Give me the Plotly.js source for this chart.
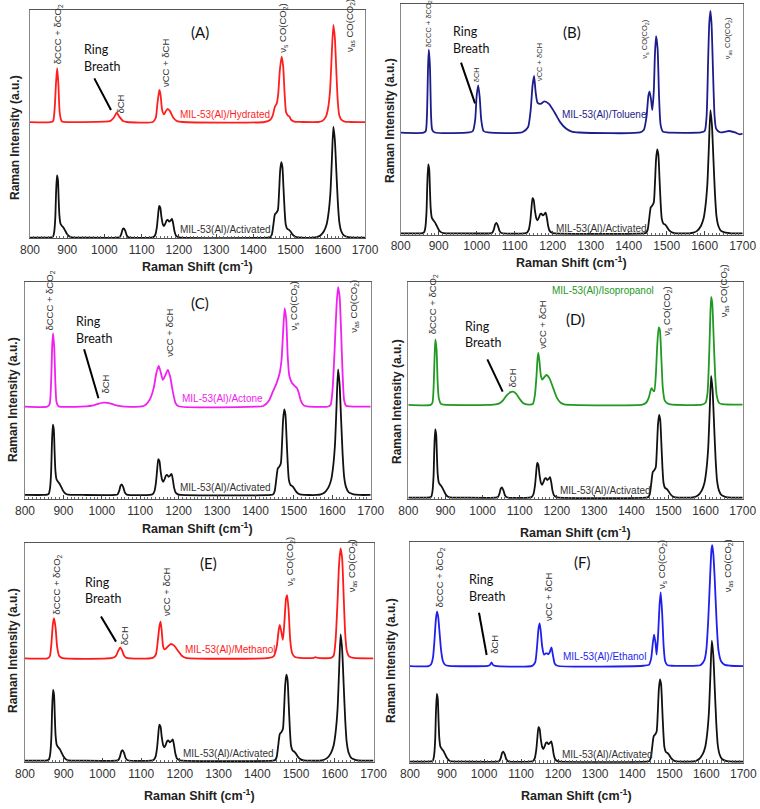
<!DOCTYPE html>
<html><head><meta charset="utf-8">
<script src="https://cdn.plot.ly/plotly-3.0.1.min.js"></script>
<style>html,body{margin:0;padding:0;background:#fff}#chart{width:760px;height:809px}</style>
</head><body><div id="chart"></div>
<script>
// ---------- data ----------
const shiftActivated = [800,850,858,862,865,868,870,872.5,875,877,879,882,886,890,895,900,905,912,950,
  1035,1041,1045,1049,1052,1056,1060,1065,
  1125,1132,1137,1141,1144,1147,1150,1153,1157,1160,1164,1167,1170,1174,1178,1181.5,1185,1188,1192,1198,1205,
  1440,1446,1450,1454,1458,1462,1466,1469,1472,1475,1478,1481,1484,1487,1491,1496,1500,1505,1512,1520,
  1560,1570,1580,1590,1597,1602,1607,1611,1615,1619,1623,1627,1631,1636,1643,1655,1670,1700];
const intActivated = [0,0,0.2,1,5,18,40,56,52,35,20,12.5,10.5,9,6,3,1.2,0.2,0,
  0,0.5,3,7.5,8.4,6,2,0.3,
  0,0.5,3,10,20,28.5,27,19,12,10.5,13,15.5,16,14.5,15.5,16.8,12,6,2,0.5,0,
  0,0.5,3,12,21,22.5,25,40,60,68,64,45,25,12,8,7,5.5,3,1,0.2,
  0,0.5,2,6,12,22,40,70,100,88,60,32,14,6,2,0.5,0,0];

const shiftHydrated = [800,855,862,866,870,873,876,880,885,890,
  1000,1015,1025,1033,1040,1050,1060,
  1130,1138,1142,1146,1148,1151,1155,1160,1165,1170,1176,1185,1195,1210,
  1430,1445,1452,1458,1463,1467,1471,1476,1480,1484,1488,1493,1497,1502,1510,1530,
  1575,1585,1595,1601,1606,1610,1615,1619,1623,1627,1631,1637,1645,1660,1700];
const intHydrated = [104,104,105,115,140,152.6,140,112,105,104.3,
  104.5,105,108,112.6,109,105,104.2,
  104.2,108,120,130,133,128,115,111,114,116,114,108,105,104.2,
  104.2,106,110,118,121,130,150,163,155,130,113,110,109,106,104.5,104.2,
  104.2,105,109,117,132,160,191.6,180,150,122,110,106,104.6,104.2,104];

const shiftToluene = [800,860,866,869,872,874,877,880,883,890,
  980,990,996,1000,1004,1008,1012,1018,1030,
  1120,1135,1142,1147,1151,1155,1160,1168,1178,1190,1205,1220,1235,1250,1270,
  1430,1440,1447,1452,1455,1459,1462,1466,1469,1472,1476,1480,1484,1490,1500,
  1590,1600,1605,1609,1612,1615,1618,1622,1626,1630,1640,1655,1665,1680,1692,1700];
const intToluene = [81.6,81.6,83,95,135,149,135,95,84,81.8,
  81.8,83,92,112,120,110,92,83,81.8,
  82,86,100,120,127.6,115,106,105,107,105,98,90,85,82.5,81.8,
  81.8,84,95,112,115,108,100,115,145,160,150,110,88,82.5,81.8,
  81.8,83,95,140,170,180.5,170,130,95,85,82,82.5,83,81.8,80.3,80.8];

const shiftAcetone = [800,858,864,868,871,873,876,879,882,887,
  960,975,990,1005,1015,1030,1045,1060,
  1105,1115,1125,1135,1142,1148,1153,1159,1165,1172,1178,1185,1192,1200,
  1400,1420,1435,1445,1455,1463,1468,1472,1476,1480,1484,1488,1495,1503,1508,1513,1518,1525,1535,
  1590,1596,1601,1606,1611,1615,1619,1623,1627,1631,1636,1645,1700];
const intAcetone = [70.3,70.3,72,90,120,128.6,118,90,74,70.6,
  70.5,71,72.5,73.5,73.3,72,70.8,70.3,
  70.4,72,76,85,97,102.7,98,91.5,95,99.5,94,82,73,70.6,
  70.3,70.8,75,82,89,97,108,130,148.5,140,110,95,89,86.5,85,81,75,71.5,70.4,
  70.4,72,85,115,150,165.3,158,130,95,75,71,70.4,70.3];

const shiftIsopropanol = [800,860,865,868,871,873,876,879,882,888,895,
  1030,1045,1055,1065,1075,1082,1090,1100,1108,1118,
  1135,1141,1145,1148,1150,1153,1157,1161,1166,1172,1180,1190,1200,1210,1220,1240,
  1430,1440,1447,1452,1455,1459,1462,1466,1470,1474,1477,1481,1485,1490,1497,1505,
  1590,1600,1605,1609,1612,1615,1618,1622,1626,1630,1636,1645,1700];
const intIsopropanol = [76.2,76.2,78,90,118,130,122,95,82,77,76.4,
  76.4,77.5,80,84,86.7,87.1,85.5,81,78,76.6,
  77,85,100,115,119,112,100,97,99,100.8,98,90,82,78,76.7,76.3,
  76.4,78,82,88,90,88,87.5,100,125,140,138,115,90,80,77.5,76.6,
  76.4,78,85,110,140,165,160,130,100,84,78,76.8,76.4];

const shiftMethanol = [800,858,864,868,872,875,879,883,888,895,
  1025,1035,1041,1046,1051,1056,1062,
  1130,1138,1143,1147,1150,1153,1157,1161,1168,1176,1185,1195,1205,1215,
  1430,1442,1450,1455,1458,1462,1466,1470,1474,1477,1481,1485,1490,1497,1510,
  1545,1550,1556,
  1590,1597,1602,1607,1611,1615,1619,1623,1627,1631,1637,1648,1700];
const intMethanol = [81,81,82.5,92,108,112.7,105,90,83,81.3,
  81.3,83,87,89.7,87,83,81.3,
  81.3,84,95,106,110,103,90,88,90,92.3,91,87,83,81.4,
  81.3,82.5,90,103,107.4,102,95.5,110,128,131,118,95,85,82,81.3,
  81.3,82,81.3,
  81.3,83,95,125,155,168,160,130,100,87,82.5,81.3,81];

const shiftEthanol = [800,850,857,862,866,870,873,876,880,884,889,895,905,
  1010,1016,1020,1024,1030,
  1130,1138,1143,1147,1150,1153,1157,1162,1167,1170,1174,1178,1182,1186,1191,1198,
  1430,1445,1451,1455,1459,1463,1466,1470,1474,1477,1481,1485,1489,1495,1505,
  1575,1585,1595,1600,1605,1610,1614,1616,1619,1623,1628,1633,1640,1650,1665,1700];
const intEthanol = [79,79,80.5,86,100,118,124,120,106,92,83,80,79.2,
  79.2,80,82,80,79.2,
  79.2,82,95,110,114.3,108,95,88.5,89.5,89.5,88.8,91,94.5,88,81,79.3,
  79.3,80,85,96,105,98,88.5,105,130,140,122,95,83,79.8,79.3,
  79.3,80,84,92,115,150,175,179,172,150,115,92,83,80,79.3,79];

const tickValues = [800,900,1000,1100,1200,1300,1400,1500,1600,1700];
const tickLabels = ['800','900','1000','1100','1200','1300','1400','1500','1600','1700'];
const peakLabels = ['δCCC + δCO<sub>2</sub>','δCH','νCC + δCH','ν<sub>s</sub> CO(CO<sub>2</sub>)','ν<sub>as</sub> CO(CO<sub>2</sub>)'];
const ringLabels = ['Ring','Breath'];
const panelTags = ['(A)','(B)','(C)','(D)','(E)','(F)'];
const solventLabels = ['MIL-53(Al)/Hydrated','MIL-53(Al)/Toluene','MIL-53(Al)/Actone','MIL-53(Al)/Isopropanol','MIL-53(Al)/Methanol','MIL-53(Al)/Ethanol'];
const activatedLabel = 'MIL-53(Al)/Activated';
const xTitle = '<b>Raman Shift (cm<sup>-1</sup>)</b>';
const yTitle = '<b>Raman Intensity (a.u.)</b>';

const solventShift = [shiftHydrated, shiftToluene, shiftAcetone, shiftIsopropanol, shiftMethanol, shiftEthanol];
const solventInt = [intHydrated, intToluene, intAcetone, intIsopropanol, intMethanol, intEthanol];

// ---------- layout / styling ----------
const W = 760, H = 809;
const solventColors = ['#ff1f1f','#1c1c8c','#f020f0','#229922','#ff1a1a','#1f1fee'];
const panels = [
  {box:[30,365,10,238.3], yr:[-0.6,205.1], pf:9.5,
   peaks:[[876,155.6],[1042,110.5],[1164.5,134.5],[1479,166],[1659.7,166]],
   ring:[940.6,169.1,154.1], line:[972.8,143.5,1017.6,115], tag:[1256.7,185.6], solv:[1196.7,110.5], act:[1196.7,6.9],
   xt:[197.5,266], yt:[15,138]},
  {box:[400.7,742.7,4,235], yr:[-1.35,186], pf:7.5,
   peaks:[[874.6,149.5],[1001.8,121.6],[1165,123],[1443,140.5],[1662,140.5]],
   ring:[931.6,163.5,150], line:[958.8,138.4,995.6,105.4], tag:[1250,163.5], solv:[1219,96], act:[1204,4],
   xt:[571.7,261.7], yt:[390,121]},
  {box:[25,370.7,282.3,499.3], yr:[-3.45,169.2], pf:9.5,
   peaks:[[865.2,130],[1008.7,79.6],[1176.5,108.8],[1501.7,130],[1656.5,128.6]],
   ring:[927.8,137.9,124.7], line:[953.9,115.9,991.3,76.9], tag:[1256.5,153], solv:[1202.6,76.4], act:[1198.3,6.1],
   xt:[197.8,528], yt:[13,400]},
  {box:[408.3,742.7,282.3,499.3], yr:[-1.37,177], pf:9.5,
   peaks:[[867.3,133.7],[1081,89.9],[1161.8,121.4],[1497.5,132.3],[1648.3,147.4]],
   ring:[946.3,140.5,127.4], line:[1012.7,113.7,1054,87.1], tag:[1248.8,146.6], solv:[1181.5,170.1], act:[1204,5.8],
   xt:[575.5,532], yt:[397,402]},
  {box:[25,373.5,543.3,762.3], yr:[-1.3,172], pf:9.5,
   peaks:[[881.8,114.5],[1055.7,90.2],[1165.8,113.5],[1484.2,137.7],[1643.5,132.5]],
   ring:[948.9,141.2,128], line:[996.3,114,1035,94.2], tag:[1273.4,156.7], solv:[1207,88.1], act:[1202.9,5.8],
   xt:[199,795], yt:[13,651]},
  {box:[410,743.3,541.7,762.7], yr:[-0.83,181.8], pf:9.5,
   peaks:[[881,126.7],[1027.7,88.2],[1173.5,115.7],[1482,141.9],[1659.6,139.1]],
   ring:[953,150.7,136.9], line:[986.3,123.1,1007,88.2], tag:[1265,165.3], solv:[1207.7,86.8], act:[1205,6],
   xt:[576.7,795], yt:[391,661]}
];

const baseFont = 'Liberation Sans, Arial, sans-serif';
const traces = [];
const layout = {
  width: W, height: H, margin:{l:0,r:0,t:0,b:0},
  paper_bgcolor:'#fff', plot_bgcolor:'#fff', showlegend:false,
  font:{family: baseFont, color:'#333', size:12},
  annotations:[], shapes:[]
};

panels.forEach((p, i) => {
  const s = i === 0 ? '' : String(i + 1);
  const xa = 'x' + s, ya = 'y' + s;
  traces.push({x: shiftActivated, y: intActivated, xaxis: xa, yaxis: ya, type:'scatter', mode:'lines',
    line:{color:'#111', width:1.8, shape:'spline', smoothing:0.6}, hoverinfo:'skip'});
  traces.push({x: solventShift[i], y: solventInt[i], xaxis: xa, yaxis: ya, type:'scatter', mode:'lines',
    line:{color: solventColors[i], width:1.8, shape:'spline', smoothing:0.6}, hoverinfo:'skip'});

  const [l, r, t, b] = p.box;
  layout['xaxis' + s] = {
    domain:[l / W, r / W], range:[800,1700], anchor: ya,
    tickmode:'array', tickvals: tickValues, ticktext: tickLabels,
    ticks:'inside', ticklen:4, tickwidth:1, tickcolor:'#444',
    minor:{dtick:10, tick0:800, ticks:'inside', ticklen:2.5, tickcolor:'#666', showgrid:false},
    showline:true, linecolor:'#555', linewidth:1, mirror:true,
    showgrid:false, zeroline:false,
    tickfont:{family: baseFont, size:12, color:'#333'}, fixedrange:true
  };
  layout['yaxis' + s] = {
    domain:[1 - b / H, 1 - t / H], range: p.yr, anchor: xa,
    showticklabels:false, ticks:'', showgrid:false, zeroline:false,
    showline:true, linecolor:'#888', linewidth:1, mirror:true, fixedrange:true
  };

  const A = layout.annotations;
  p.peaks.forEach((pk, k) => {
    A.push({xref: xa, yref: ya, x: pk[0], y: pk[1], text: peakLabels[k], showarrow:false,
      textangle:-90, xanchor:'center', yanchor:'bottom', borderpad:0,
      font:{family: baseFont, size: p.pf, color:'#333'}});
  });
  A.push({xref: xa, yref: ya, x: p.ring[0], y: p.ring[1], text: ringLabels[0], showarrow:false,
    xanchor:'left', yanchor:'middle', font:{family:'Lato, Open Sans, sans-serif', size:12.5, color:'#111'}});
  A.push({xref: xa, yref: ya, x: p.ring[0], y: p.ring[2], text: ringLabels[1], showarrow:false,
    xanchor:'left', yanchor:'middle', font:{family:'Lato, Open Sans, sans-serif', size:12.5, color:'#111'}});
  A.push({xref: xa, yref: ya, x: p.tag[0], y: p.tag[1], text: panelTags[i], showarrow:false,
    xanchor:'center', yanchor:'middle', font:{family:'Lato, Open Sans, sans-serif', size:15, color:'#111'}});
  A.push({xref: xa, yref: ya, x: p.solv[0], y: p.solv[1], text: solventLabels[i], showarrow:false,
    xanchor:'left', yanchor:'middle', font:{family: baseFont, size:10, color: solventColors[i]}});
  A.push({xref: xa, yref: ya, x: p.act[0], y: p.act[1], text: activatedLabel, showarrow:false,
    xanchor:'left', yanchor:'middle', font:{family: baseFont, size:10, color:'#333'}});
  A.push({xref:'paper', yref:'paper', x: p.xt[0] / W, y: 1 - p.xt[1] / H, text: xTitle, showarrow:false,
    xanchor:'center', yanchor:'middle', font:{family: baseFont, size:12.5, color:'#222'}});
  A.push({xref:'paper', yref:'paper', x: p.yt[0] / W, y: 1 - p.yt[1] / H, text: yTitle, showarrow:false,
    textangle:-90, xanchor:'center', yanchor:'middle', font:{family: baseFont, size:12, color:'#222'}});

  layout.shapes.push({type:'line', xref: xa, yref: ya, x0: p.line[0], y0: p.line[1], x1: p.line[2], y1: p.line[3],
    line:{color:'#000', width:2}});
});

Plotly.newPlot('chart', traces, layout, {staticPlot:true, displayModeBar:false});
</script>
</body></html>
